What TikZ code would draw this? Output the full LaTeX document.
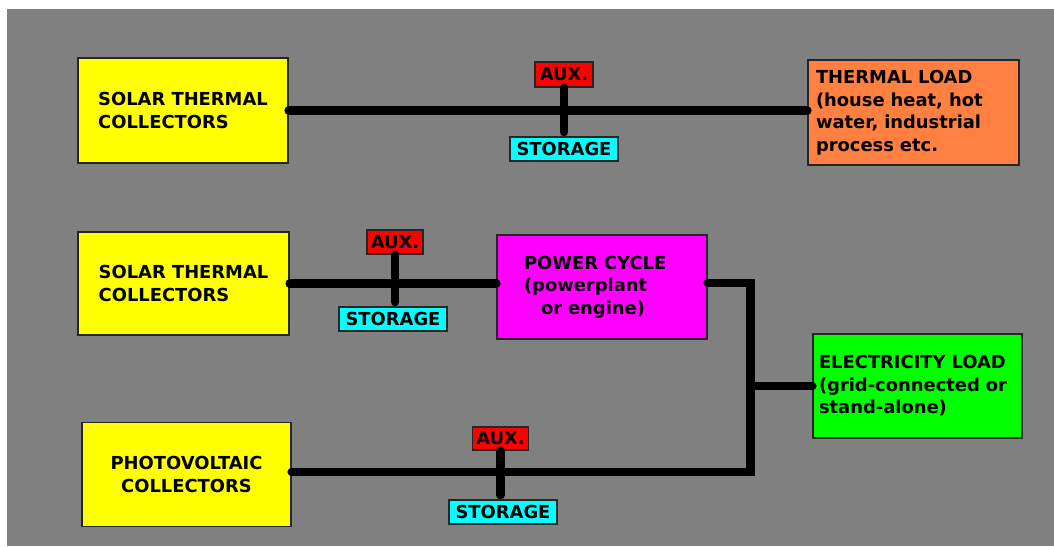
\documentclass[tikz,border=0pt]{standalone}
\usepackage{fontspec}
\newfontfamily\dfont{DejaVu Sans}
\definecolor{bggray}{HTML}{808080}
\definecolor{cyel}{HTML}{FFFF00}
\definecolor{cred}{HTML}{FF0000}
\definecolor{ccyan}{HTML}{00FFFF}
\definecolor{corange}{HTML}{FF8040}
\definecolor{cmag}{HTML}{FF00FF}
\definecolor{cgreen}{HTML}{00FF00}
\tikzset{
  blk/.style={draw=black!85, line width=1.3pt, inner ysep=0pt,
    font=\dfont\bfseries\fontsize{17.9}{22.5}\selectfont, align=left},
  tag/.style={draw=black!85, line width=1.3pt, inner sep=0pt, align=center,
    font=\dfont\bfseries\fontsize{17.9}{20}\selectfont},
  wire/.style={line width=8.5pt, line cap=round, line join=miter, black}
}
\begin{document}
\begin{tikzpicture}[x=1pt,y=-1pt]
\useasboundingbox (0,0) rectangle (1054,546);
\fill[white] (0,0) rectangle (1054,546);
\fill[bggray] (7,9) rectangle (1054,546);

% top row
\node[blk, fill=cyel, minimum width=210pt, minimum height=105pt] (st1) at (183,110.5) {SOLAR THERMAL\\COLLECTORS};
\node[blk, fill=corange, minimum width=211pt, minimum height=105pt, text width=195pt, inner xsep=8pt] (tl) at (913.5,112.5) {THERMAL LOAD\\(house heat, hot\\water, industrial\\process etc.};
\node[tag, fill=cred, minimum width=58pt, minimum height=25pt] (aux1) at (564,74.5) {AUX.};
\node[tag, fill=ccyan, minimum width=108pt, minimum height=24pt] (sto1) at (564,149) {STORAGE};

% middle row
\node[blk, fill=cyel, minimum width=211pt, minimum height=103pt] (st2) at (183.5,283.5) {SOLAR THERMAL\\COLLECTORS};
\node[blk, fill=cmag, minimum width=210pt, minimum height=104pt, text width=156pt, inner xsep=27pt] (pc) at (602,287) {POWER CYCLE\\(powerplant\\\hspace*{17pt}or engine)};
\node[tag, fill=cred, minimum width=56pt, minimum height=24pt] (aux2) at (395,242) {AUX.};
\node[tag, fill=ccyan, minimum width=108pt, minimum height=24pt] (sto2) at (393,319) {STORAGE};

% right / bottom
\node[blk, fill=cgreen, minimum width=209pt, minimum height=104pt, text width=197pt, inner xsep=6pt] (el) at (917.5,386) {ELECTRICITY LOAD\\(grid-connected or\\stand-alone)};
\node[blk, fill=cyel, minimum width=209pt, minimum height=104pt, align=center] (pv) at (186.5,474.5) {PHOTOVOLTAIC\\COLLECTORS};
\node[tag, fill=cred, minimum width=56pt, minimum height=23pt] (aux3) at (500.5,438.5) {AUX.};
\node[tag, fill=ccyan, minimum width=108pt, minimum height=24pt] (sto3) at (503,512) {STORAGE};

\coordinate (j1) at (750.5,283);
\coordinate (j2) at (750.5,472);

% wires
\draw[wire] (st1.east) -- (st1.east -| tl.west);
\draw[wire, shorten >=4.25pt] (aux1.south) -- (aux1.south |- sto1.north);

\draw[wire] (st2.east) -- (st2.east -| pc.west);
\draw[wire, shorten >=4.25pt] (aux2.south) -- (aux2.south |- sto2.north);

\draw[wire] (pc.east |- j1) -- (j1) -- (j2) -- (j2 -| pv.east);
\draw[wire] (j1 |- el.west) -- (el.west);
\draw[wire, shorten >=4.25pt] (aux3.south) -- (aux3.south |- sto3.north);
\end{tikzpicture}
\end{document}
